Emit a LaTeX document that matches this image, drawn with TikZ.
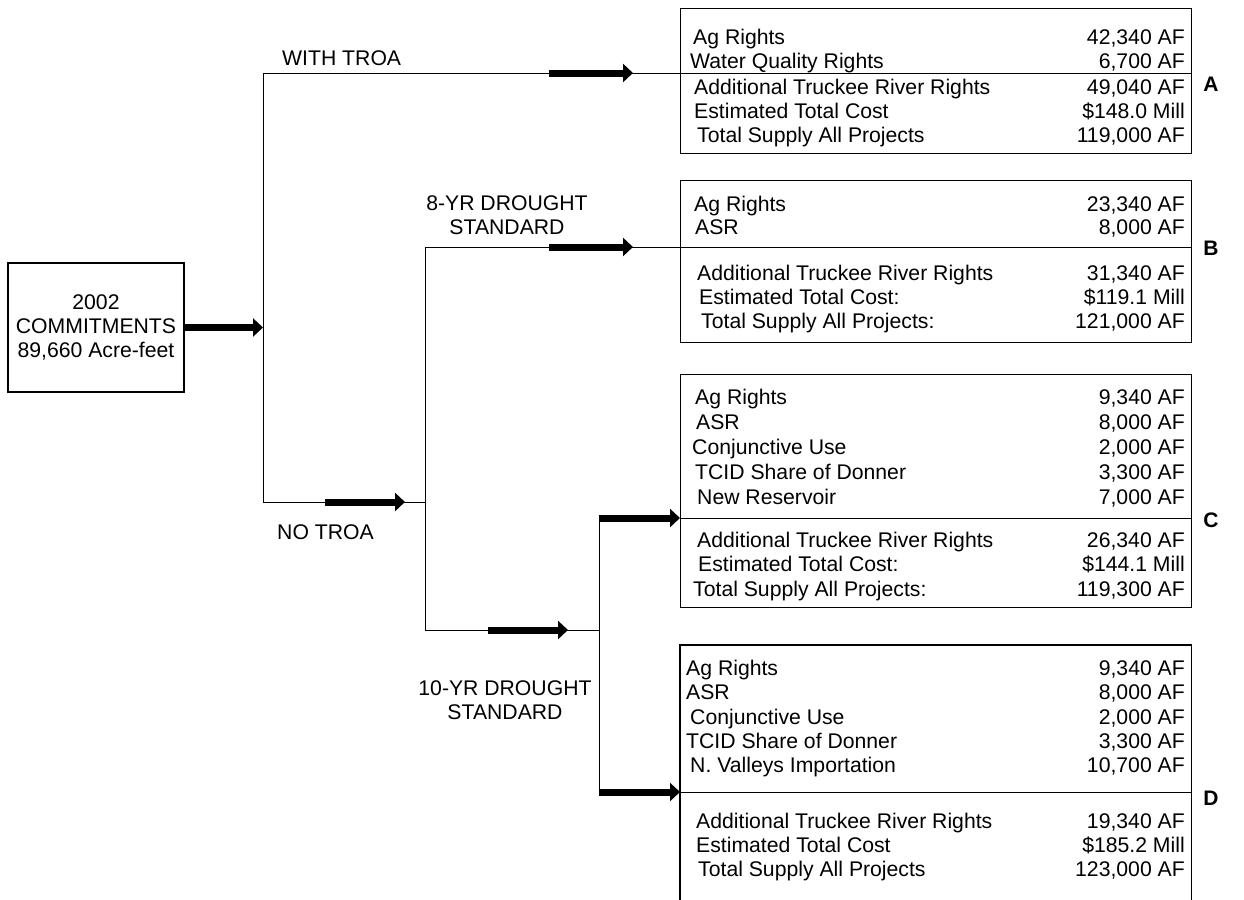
\documentclass[tikz,border=0pt]{standalone}
\usepackage{fontspec}
\setmainfont{Liberation Sans}
\usetikzlibrary{arrows.meta}
\newcommand\rowpair[5]{%
  \node[anchor=base west] (#1l) at (#2,#3) {#4};
  \node[anchor=base east] (#1r) at (1185,#3) {#5};}
\begin{document}
\begin{tikzpicture}[x=1pt,y=-1pt,
  every node/.style={inner sep=0pt, font=\fontsize{21.2}{24}\selectfont},
  frame/.style={draw, line width=1.2pt, inner sep=0pt},
  link/.style={line width=1pt},
  bigarrow/.style={line width=7pt, -{Triangle[length=10pt,width=18pt]}},
  tag/.style={font=\fontsize{21}{24}\selectfont\bfseries},
]
\useasboundingbox (0,0) rectangle (1244,899);

% start box
\node[frame, minimum width=176pt, minimum height=129pt, align=center] (commit) at (96,327.5)
  {2002\\COMMITMENTS\\89,660 Acre-feet};

% result boxes
\node[frame, minimum width=511pt, minimum height=145pt, anchor=north west] (boxA) at (680,8) {};
\node[frame, minimum width=511pt, minimum height=162pt, anchor=north west] (boxB) at (680,180) {};
\node[frame, minimum width=511pt, minimum height=233pt, anchor=north west] (boxC) at (680,374) {};
\node[minimum width=511pt, minimum height=256pt, anchor=north west] (boxD) at (680,645) {};
\draw[line width=1.2pt] (boxD.south west) |- (boxD.north east) -- (boxD.south east);

% junction coordinates
\coordinate (jA) at (263,73);
\coordinate (jIn) at (263,327.5);
\coordinate (jNo) at (263,502);
\coordinate (kB) at (425,247);
\coordinate (kNo) at (425,502);
\coordinate (k10) at (425,630);
\coordinate (mC) at (599,518);
\coordinate (m10) at (599,630);
\coordinate (mD) at (599,792);

% thin connectors
\draw[link] (jA) -- (jNo);
\draw[link] (jA) -- (boxA.east |- jA);
\draw[link] (jNo) -- (kNo);
\draw[link] (kB) -- (k10);
\draw[link] (kB) -- (boxB.east |- kB);
\draw[link] (k10) -- (m10);
\draw[link] (mC) -- (mD);
\draw[link] (boxC.west |- mC) -- (boxC.east |- mC);
\draw[link] (boxD.west |- mD) -- (boxD.east |- mD);

% thick arrows
\coordinate (aA1) at (549,73);   \coordinate (aA2) at (633,73);
\coordinate (aB1) at (549,247);  \coordinate (aB2) at (633,247);
\coordinate (aN1) at (325,502);  \coordinate (aN2) at (405,502);
\coordinate (aT1) at (488,630);  \coordinate (aT2) at (568,630);
\draw[bigarrow] (commit.east |- jIn) -- (jIn);
\draw[bigarrow] (aA1) -- (aA2);
\draw[bigarrow] (aB1) -- (aB2);
\draw[bigarrow] (aN1) -- (aN2);
\draw[bigarrow] (aT1) -- (aT2);
\draw[bigarrow] (mC) -- (boxC.west |- mC);
\draw[bigarrow] (mD) -- (boxD.west |- mD);

% branch labels
\node[anchor=base west] (withtroa) at (282,66) {WITH TROA};
\node[anchor=base west] (notroa) at (277,539) {NO TROA};
\node[align=center] (eight) at (507,215) {8-YR DROUGHT\\STANDARD};
\node[align=center] (ten) at (505,700) {10-YR DROUGHT\\STANDARD};

% box A
\rowpair{a1}{693}{45}{Ag Rights}{42,340 AF}
\rowpair{a2}{690}{69}{Water Quality Rights}{6,700 AF}
\rowpair{a3}{694}{94}{Additional Truckee River Rights}{49,040 AF}
\rowpair{a4}{694}{118}{Estimated Total Cost}{\$148.0 Mill}
\rowpair{a5}{697}{142}{Total Supply All Projects}{119,000 AF}

% box B
\rowpair{b1}{694}{211}{Ag Rights}{23,340 AF}
\rowpair{b2}{695}{234}{ASR}{8,000 AF}
\rowpair{b3}{697}{280}{Additional Truckee River Rights}{31,340 AF}
\rowpair{b4}{699}{304}{Estimated Total Cost:}{\$119.1 Mill}
\rowpair{b5}{701}{328}{Total Supply All Projects:}{121,000 AF}

% box C
\rowpair{c1}{695}{404}{Ag Rights}{9,340 AF}
\rowpair{c2}{696}{429}{ASR}{8,000 AF}
\rowpair{c3}{692}{454}{Conjunctive Use}{2,000 AF}
\rowpair{c4}{695}{479}{TCID Share of Donner}{3,300 AF}
\rowpair{c5}{697}{504}{New Reservoir}{7,000 AF}
\rowpair{c6}{697}{547}{Additional Truckee River Rights}{26,340 AF}
\rowpair{c7}{698}{571}{Estimated Total Cost:}{\$144.1 Mill}
\rowpair{c8}{693}{596}{Total Supply All Projects:}{119,300 AF}

% box D
\rowpair{d1}{686}{675}{Ag Rights}{9,340 AF}
\rowpair{d2}{686}{699}{ASR}{8,000 AF}
\rowpair{d3}{690}{724}{Conjunctive Use}{2,000 AF}
\rowpair{d4}{686}{748}{TCID Share of Donner}{3,300 AF}
\rowpair{d5}{690}{772}{N. Valleys Importation}{10,700 AF}
\rowpair{d6}{696}{828}{Additional Truckee River Rights}{19,340 AF}
\rowpair{d7}{696}{852}{Estimated Total Cost}{\$185.2 Mill}
\rowpair{d8}{698}{876}{Total Supply All Projects}{123,000 AF}

% side letters
\node[tag] (tagA) at (1211,84) {A};
\node[tag] (tagB) at (1211,248) {B};
\node[tag] (tagC) at (1211,520) {C};
\node[tag] (tagD) at (1211,798) {D};
\end{tikzpicture}
\end{document}
